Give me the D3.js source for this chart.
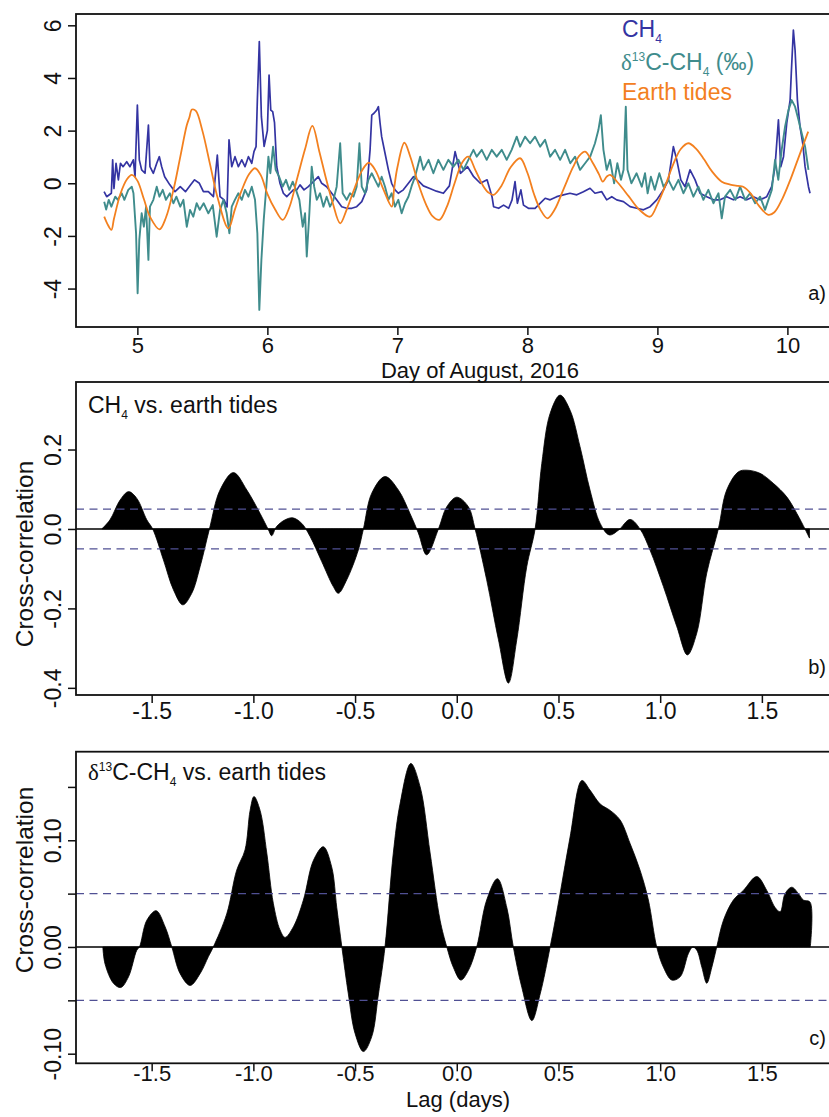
<!DOCTYPE html>
<html><head><meta charset="utf-8">
<script src="https://cdn.jsdelivr.net/npm/d3@7"></script>
<style>body{margin:0;background:#fff} text{font-family:"Liberation Sans",Arial,Helvetica,sans-serif;fill:#111}</style>
</head><body><svg id="c" width="829" height="1117"></svg>
<script>
// ---------- DATA ----------
// Panel a: [day of August 2016, standardized value]
const tides = [[4.745,-1.27],[4.77,-1.55],[4.80,-1.77],[4.82,-1.35],[4.87,-0.4],[4.92,0.15],[4.957,0.32],[5.00,0.1],[5.05,-0.6],[5.10,-1.3],[5.17,-1.75],[5.22,-1.3],[5.28,-0.2],[5.33,1.0],[5.38,2.2],[5.40,2.5],[5.42,2.8],[5.45,2.75],[5.50,2.0],[5.56,0.7],[5.62,-0.6],[5.70,-1.71],[5.75,-1.0],[5.80,-0.3],[5.86,0.35],[5.905,0.57],[5.95,0.3],[6.00,-0.4],[6.06,-1.0],[6.118,-1.39],[6.17,-0.9],[6.23,0.2],[6.29,1.3],[6.346,2.18],[6.40,1.2],[6.45,0.2],[6.50,-0.7],[6.56,-1.52],[6.61,-1.0],[6.67,-0.2],[6.73,0.5],[6.78,0.78],[6.83,0.5],[6.89,-0.2],[6.957,-0.89],[6.975,-0.2],[7.00,0.6],[7.054,1.54],[7.10,1.0],[7.16,0.0],[7.22,-0.8],[7.27,-1.25],[7.323,-1.39],[7.38,-0.9],[7.44,0.0],[7.50,0.8],[7.546,1.01],[7.60,0.5],[7.66,-0.1],[7.70,-0.35],[7.74,-0.44],[7.80,-0.1],[7.87,0.6],[7.944,0.95],[8.00,0.4],[8.05,-0.4],[8.10,-1.0],[8.154,-1.33],[8.21,-1.0],[8.28,-0.2],[8.35,0.6],[8.40,1.05],[8.444,1.20],[8.50,0.8],[8.55,0.35],[8.58,0.06],[8.61,0.25],[8.636,0.32],[8.70,0.0],[8.78,-0.5],[8.86,-1.0],[8.944,-1.27],[9.00,-0.8],[9.06,-0.1],[9.12,0.7],[9.18,1.3],[9.238,1.52],[9.30,1.3],[9.36,0.9],[9.42,0.45],[9.495,0.06],[9.56,-0.05],[9.62,-0.1],[9.66,-0.13],[9.72,-0.4],[9.78,-0.85],[9.854,-1.20],[9.90,-1.1],[9.96,-0.6],[10.02,0.1],[10.08,0.9],[10.16,1.96]];

const ch4 = [[4.744,-0.32],[4.764,-0.51],[4.80,-0.38],[4.81,0.89],[4.82,-0.2],[4.836,0.76],[4.854,0.13],[4.87,0.76],[4.89,0.63],[4.918,0.82],[4.943,0.63],[4.969,0.89],[4.982,0.25],[5.0,2.97],[5.015,0.89],[5.033,0.51],[5.059,0.38],[5.085,2.21],[5.097,0.63],[5.123,0.38],[5.149,0.76],[5.169,1.01],[5.187,0.63],[5.21,0.25],[5.25,-0.06],[5.29,-0.32],[5.33,-0.13],[5.37,-0.32],[5.41,-0.06],[5.44,0.13],[5.477,0.0],[5.508,-0.32],[5.546,-0.32],[5.585,-0.51],[5.615,1.07],[5.636,-0.51],[5.667,-0.63],[5.69,-0.9],[5.705,1.65],[5.726,0.63],[5.751,1.01],[5.777,0.63],[5.803,0.89],[5.828,0.63],[5.854,1.01],[5.88,0.76],[5.897,1.2],[5.913,1.39],[5.923,3.16],[5.938,5.38],[5.954,2.53],[5.975,1.4],[6.0,2.0],[6.013,4.11],[6.026,2.78],[6.041,2.72],[6.055,2.3],[6.072,0.63],[6.097,0.0],[6.123,-0.38],[6.149,-0.51],[6.174,-0.38],[6.2,-0.25],[6.226,-0.25],[6.251,-0.06],[6.282,-0.25],[6.315,-0.13],[6.354,0.06],[6.392,0.25],[6.418,0.0],[6.456,-0.13],[6.495,-0.38],[6.533,-0.63],[6.572,-0.89],[6.61,-0.95],[6.649,-0.95],[6.687,-0.89],[6.726,-0.7],[6.764,-0.25],[6.79,1.27],[6.803,2.59],[6.82,2.66],[6.841,2.78],[6.854,2.91],[6.867,2.28],[6.879,1.77],[6.905,1.14],[6.931,0.51],[6.956,0.0],[6.982,-0.25],[7.007,-0.38],[7.046,-0.25],[7.085,0.0],[7.123,0.25],[7.16,0.1],[7.2,-0.1],[7.25,-0.2],[7.3,-0.3],[7.354,-0.38],[7.4,-0.1],[7.444,1.2],[7.485,0.38],[7.54,0.63],[7.587,0.25],[7.638,0.0],[7.69,0.13],[7.728,-0.51],[7.74,-0.89],[7.779,-0.95],[7.817,-0.83],[7.856,-0.95],[7.882,-0.63],[7.905,0.06],[7.923,-0.76],[7.95,-0.25],[7.97,-0.83],[8.008,-0.95],[8.059,-0.95],[8.111,-0.7],[8.137,-0.57],[8.175,-0.63],[8.226,-0.51],[8.277,-0.44],[8.328,-0.38],[8.38,-0.44],[8.431,-0.32],[8.482,-0.19],[8.52,-0.38],[8.572,-0.32],[8.61,-0.63],[8.649,-0.51],[8.687,-0.63],[8.739,-0.7],[8.79,-0.89],[8.841,-0.95],[8.893,-1.01],[8.944,-0.89],[8.995,-0.63],[9.047,-0.25],[9.085,0.13],[9.123,1.39],[9.149,0.89],[9.18,0.13],[9.213,-0.13],[9.251,0.51],[9.29,0.13],[9.328,-0.38],[9.38,-0.51],[9.431,-0.63],[9.482,-0.63],[9.533,-0.51],[9.585,-0.63],[9.636,-0.51],[9.687,-0.63],[9.738,-0.51],[9.79,-0.63],[9.841,-0.51],[9.879,-0.13],[9.905,0.63],[9.931,2.41],[9.949,0.63],[9.97,1.01],[9.995,2.28],[10.021,3.16],[10.03,4.18],[10.046,5.82],[10.059,5.06],[10.077,3.16],[10.097,2.15],[10.118,1.52],[10.136,0.63],[10.162,-0.13],[10.174,-0.38]];

const d13c = [[4.745,-0.7],[4.76,-1.0],[4.78,-0.63],[4.80,-0.89],[4.83,-0.51],[4.85,-0.63],[4.88,-0.38],[4.90,-0.63],[4.93,-0.25],[4.957,-0.13],[4.97,-0.38],[4.99,-1.9],[5.002,-4.18],[5.015,-2.15],[5.033,-1.14],[5.05,-1.65],[5.067,-0.89],[5.085,-2.91],[5.097,-0.89],[5.123,-0.63],[5.149,-0.13],[5.17,-0.51],[5.195,-0.25],[5.22,-0.63],[5.25,-0.38],[5.277,-0.76],[5.3,-0.51],[5.33,-0.89],[5.354,-0.63],[5.38,-1.65],[5.405,-1.01],[5.43,-1.27],[5.456,-0.76],[5.48,-1.01],[5.51,-0.76],[5.546,-1.14],[5.58,-0.83],[5.61,-2.03],[5.636,-1.01],[5.662,-0.63],[5.687,-1.14],[5.708,-1.9],[5.726,-0.89],[5.75,-0.63],[5.777,-0.38],[5.803,-0.63],[5.828,-0.25],[5.854,-0.51],[5.88,-0.13],[5.905,-0.63],[5.923,-1.9],[5.938,-4.81],[5.954,-2.91],[5.972,-1.39],[5.992,-0.13],[6.008,1.01],[6.023,0.38],[6.044,1.39],[6.064,0.51],[6.09,0.25],[6.118,-0.13],[6.143,0.13],[6.169,-0.25],[6.195,0.06],[6.22,-0.25],[6.246,-0.63],[6.272,-1.65],[6.29,-1.14],[6.303,-2.78],[6.323,-1.14],[6.341,0.63],[6.36,-0.13],[6.38,-0.63],[6.405,-0.38],[6.431,-0.89],[6.456,-0.51],[6.482,-0.89],[6.508,-0.63],[6.533,-0.13],[6.56,1.52],[6.579,-0.38],[6.61,-0.63],[6.636,-0.38],[6.662,-0.51],[6.687,-0.13],[6.708,1.52],[6.726,-0.13],[6.751,-0.38],[6.777,0.13],[6.803,0.38],[6.828,0.13],[6.854,-0.13],[6.879,0.25],[6.905,-0.13],[6.931,-0.63],[6.956,-0.38],[6.982,-0.89],[7.007,-0.63],[7.033,-1.14],[7.059,-0.76],[7.085,-0.51],[7.11,-0.1],[7.136,0.25],[7.175,1.01],[7.2,0.51],[7.24,0.89],[7.277,0.38],[7.315,0.89],[7.354,0.51],[7.392,0.89],[7.431,0.63],[7.47,0.89],[7.508,0.51],[7.546,0.89],[7.585,1.27],[7.61,1.01],[7.649,1.27],[7.687,0.89],[7.726,1.27],[7.764,1.01],[7.803,1.27],[7.841,0.89],[7.879,1.27],[7.918,1.77],[7.944,1.39],[7.982,1.77],[8.021,1.52],[8.059,1.77],[8.098,1.39],[8.136,1.65],[8.175,1.01],[8.213,1.27],[8.252,0.89],[8.29,1.27],[8.33,0.76],[8.367,1.01],[8.405,0.51],[8.444,0.76],[8.483,1.01],[8.52,1.52],[8.546,2.02],[8.565,2.59],[8.585,1.27],[8.61,0.51],[8.636,0.89],[8.667,0.0],[8.692,0.76],[8.72,0.13],[8.74,0.51],[8.757,2.91],[8.77,0.51],[8.80,0.0],[8.84,0.38],[8.88,-0.13],[8.905,0.38],[8.925,-0.38],[8.95,0.25],[8.98,-0.25],[9.015,0.38],[9.047,-0.13],[9.085,0.13],[9.123,-0.25],[9.162,0.13],[9.2,-0.38],[9.238,0.0],[9.277,-0.51],[9.315,-0.13],[9.354,-0.63],[9.392,-0.25],[9.431,-0.76],[9.47,-0.38],[9.495,-1.33],[9.52,-0.51],[9.56,-0.25],[9.6,-0.63],[9.636,-0.13],[9.675,-0.63],[9.713,-0.38],[9.752,-0.76],[9.79,-0.51],[9.828,-1.01],[9.854,-0.63],[9.88,-0.25],[9.905,0.89],[9.93,0.13],[9.956,1.27],[9.982,2.15],[10.008,2.78],[10.033,3.16],[10.059,2.91],[10.085,2.41],[10.11,1.90],[10.136,1.39],[10.162,0.51]];

// Panel b: CH4 vs earth tides cross-correlation [lag (days), r]
const ccfCH4 = [[-1.745,0],[-1.705,0.023],[-1.655,0.073],[-1.614,0.094],[-1.573,0.077],[-1.524,0.023],[-1.495,0],[-1.442,-0.078],[-1.393,-0.153],[-1.347,-0.191],[-1.303,-0.162],[-1.262,-0.095],[-1.216,0],[-1.164,0.098],[-1.098,0.142],[-1.032,0.098],[-0.967,0.039],[-0.926,-0.002],[-0.91,-0.017],[-0.886,0.006],[-0.844,0.023],[-0.806,0.028],[-0.762,0.014],[-0.721,-0.019],[-0.664,-0.082],[-0.607,-0.145],[-0.582,-0.162],[-0.541,-0.128],[-0.484,-0.053],[-0.459,0],[-0.418,0.09],[-0.353,0.132],[-0.287,0.098],[-0.23,0.039],[-0.189,-0.01],[-0.148,-0.065],[-0.09,0],[-0.049,0.056],[0.0,0.08],[0.057,0.056],[0.09,0],[0.147,-0.128],[0.205,-0.279],[0.254,-0.388],[0.295,-0.279],[0.344,-0.095],[0.385,0],[0.418,0.165],[0.459,0.291],[0.508,0.337],[0.557,0.299],[0.606,0.207],[0.655,0.098],[0.705,0.014],[0.75,-0.015],[0.795,-0.003],[0.852,0.024],[0.901,0],[0.95,-0.053],[1.016,-0.145],[1.082,-0.246],[1.134,-0.317],[1.18,-0.262],[1.229,-0.111],[1.286,0],[1.327,0.098],[1.385,0.144],[1.426,0.148],[1.491,0.140],[1.556,0.115],[1.622,0.081],[1.672,0.039],[1.712,0],[1.734,-0.023]];

// Panel c: d13C-CH4 vs earth tides cross-correlation
const ccfD13C = [[-1.74,0],[-1.729,-0.016],[-1.688,-0.034],[-1.652,-0.038],[-1.614,-0.028],[-1.573,-0.003],[-1.56,0],[-1.524,0.025],[-1.478,0.034],[-1.434,0.019],[-1.401,0],[-1.36,-0.025],[-1.311,-0.036],[-1.262,-0.025],[-1.221,-0.009],[-1.197,0],[-1.131,0.031],[-1.082,0.072],[-1.041,0.091],[-1.016,0.128],[-0.997,0.141],[-0.967,0.128],[-0.934,0.088],[-0.902,0.041],[-0.869,0.016],[-0.844,0.009],[-0.803,0.019],[-0.754,0.044],[-0.705,0.081],[-0.656,0.094],[-0.615,0.075],[-0.59,0.037],[-0.565,0],[-0.533,-0.044],[-0.5,-0.081],[-0.459,-0.098],[-0.418,-0.084],[-0.385,-0.044],[-0.353,0],[-0.312,0.088],[-0.279,0.134],[-0.226,0.172],[-0.18,0.15],[-0.131,0.088],[-0.082,0.025],[-0.049,0],[-0.017,-0.019],[0.02,-0.031],[0.057,-0.022],[0.098,0],[0.147,0.044],[0.2,0.064],[0.246,0.037],[0.278,0],[0.32,-0.038],[0.369,-0.069],[0.41,-0.044],[0.459,0],[0.508,0.05],[0.557,0.103],[0.615,0.156],[0.655,0.147],[0.705,0.134],[0.754,0.128],[0.803,0.119],[0.852,0.097],[0.901,0.072],[0.942,0.044],[0.983,0],[1.016,-0.019],[1.057,-0.031],[1.098,-0.028],[1.139,-0.006],[1.16,0],[1.18,-0.003],[1.205,-0.019],[1.229,-0.034],[1.254,-0.019],[1.278,0],[1.311,0.025],[1.36,0.044],[1.409,0.053],[1.475,0.066],[1.524,0.053],[1.565,0.037],[1.59,0.033],[1.614,0.05],[1.647,0.056],[1.68,0.05],[1.704,0.044],[1.737,0.042],[1.738,0]];

const dayTicks = [5,6,7,8,9,10];
const aYTicks = [-4,-2,0,2,4,6];
const lagTicks = [-1.5,-1.0,-0.5,0.0,0.5,1.0,1.5];
const bYTicks = [-0.4,-0.2,0.0,0.2];
const cYTicks = [-0.10,-0.05,0.00,0.05,0.10,0.15];
const cYLabelled = [-0.10,0.00,0.10];
const ciLevel = 0.05;

// ---------- DRAW ----------
const COL_CH4 = "#3434a2", COL_D13 = "#3f8c8c", COL_TIDE = "#f3801f", COL_CI = "#505094";
const svg = d3.select("#c");
const L = 76, R = 831;
const FS = 23;

function frame(top, bottom){
  svg.append("rect").attr("x",L).attr("y",top).attr("width",R-L).attr("height",bottom-top)
    .attr("fill","none").attr("stroke","#111").attr("stroke-width",1.8);
}
function xAxis(x, yPos, ticks, fmt, labelOff, fs){
  const g = svg.append("g").attr("transform",`translate(0,${yPos})`)
    .call(d3.axisBottom(x).tickValues(ticks).tickFormat(fmt).tickSize(8));
  g.select(".domain").remove();
  g.selectAll(".tick line").attr("stroke","#111").attr("stroke-width",1.5);
  g.selectAll(".tick text").attr("y",labelOff).attr("dy",null)
    .attr("font-size",fs||FS).attr("fill","#111").style("font-family",'"Liberation Sans",Arial,sans-serif');
  return g;
}
function yAxis(y, ticks, labelled, fmt){
  const g = svg.append("g").attr("transform",`translate(${L},0)`)
    .call(d3.axisLeft(y).tickValues(ticks).tickFormat(d => labelled.some(v=>Math.abs(v-d)<1e-9) ? fmt(d) : "").tickSize(8));
  g.select(".domain").remove();
  g.selectAll(".tick line").attr("stroke","#111").attr("stroke-width",1.5);
  g.selectAll(".tick text").attr("x",null).attr("dy",null).attr("text-anchor","middle")
    .attr("transform","translate(-15,0) rotate(-90)")
    .attr("font-size",FS).attr("fill","#111").style("font-family",'"Liberation Sans",Arial,sans-serif');
  return g;
}
const minus = s => s.replace("−","-");

// ===== Panel a =====
const xA = d3.scaleLinear().domain([4.528,10.32]).range([L,829]);
const yA = d3.scaleLinear().domain([-5.46,6.43]).range([327,14]);
const lineA = d3.line().x(d=>xA(d[0])).y(d=>yA(d[1]));
svg.append("path").datum(ch4).attr("d",lineA).attr("fill","none").attr("stroke",COL_CH4).attr("stroke-width",1.7).attr("stroke-linejoin","round");
svg.append("path").datum(d13c).attr("d",lineA).attr("fill","none").attr("stroke",COL_D13).attr("stroke-width",1.9).attr("stroke-linejoin","round");
svg.append("path").datum(tides).attr("d",lineA.curve(d3.curveCatmullRom.alpha(0.5))).attr("fill","none").attr("stroke",COL_TIDE).attr("stroke-width",1.8);
frame(14,327);
xAxis(xA,327,dayTicks,d3.format("d"),26,22);
yAxis(yA,aYTicks,aYTicks,d=>minus(d3.format("d")(d)));
svg.append("text").attr("x",480).attr("y",378).attr("text-anchor","middle").attr("font-size",22).text("Day of August, 2016");
svg.append("text").attr("x",826).attr("y",300).attr("text-anchor","end").attr("font-size",20).text("a)");
// legend
const lg1 = svg.append("text").attr("x",622).attr("y",37).attr("font-size",FS).style("fill",COL_CH4);
lg1.append("tspan").text("CH");
lg1.append("tspan").attr("font-size",12).attr("dy",6).text("4");
const lg2 = svg.append("text").attr("x",621).attr("y",70).attr("font-size",FS).style("fill",COL_D13);
lg2.append("tspan").style("font-family",'"Liberation Serif","DejaVu Serif",serif').text("δ");
lg2.append("tspan").attr("font-size",12).attr("dy",-9).text("13");
lg2.append("tspan").attr("dy",9).text("C-CH");
lg2.append("tspan").attr("font-size",12).attr("dy",6).text("4");
lg2.append("tspan").attr("dy",-6).text(" (‰)");
svg.append("text").attr("x",622).attr("y",100).attr("font-size",FS).style("fill",COL_TIDE).text("Earth tides");

// ===== Panel b =====
const xB = d3.scaleLinear().domain([-1.872,1.83]).range([L,829]);
const yB = d3.scaleLinear().domain([-0.418,0.37]).range([695,382]);
svg.append("path").datum(ccfCH4)
  .attr("d",d3.area().x(d=>xB(d[0])).y0(yB(0)).y1(d=>yB(d[1])).curve(d3.curveCatmullRom.alpha(0.5)))
  .attr("fill","#000").attr("stroke","#000").attr("stroke-width",0.8);
svg.append("line").attr("x1",L).attr("x2",829).attr("y1",yB(0)).attr("y2",yB(0)).attr("stroke","#000").attr("stroke-width",1.6);
[ciLevel,-ciLevel].forEach(v=>svg.append("line").attr("x1",L).attr("x2",829).attr("y1",yB(v)).attr("y2",yB(v))
  .attr("stroke",COL_CI).attr("stroke-width",1.4).attr("stroke-dasharray","8,5.5"));
frame(382,695);
xAxis(xB,695,lagTicks,d=>minus(d3.format(".1f")(d)),24);
yAxis(yB,bYTicks,bYTicks,d=>minus(d3.format(".1f")(d)));
svg.append("text").attr("transform","translate(33,554) rotate(-90)").attr("text-anchor","middle").attr("font-size",24.5).text("Cross-correlation");
const tb = svg.append("text").attr("x",88).attr("y",413).attr("font-size",FS);
tb.append("tspan").text("CH");
tb.append("tspan").attr("font-size",12).attr("dy",6).text("4");
tb.append("tspan").attr("dy",-6).text(" vs. earth tides");
svg.append("text").attr("x",826).attr("y",674).attr("text-anchor","end").attr("font-size",20).text("b)");

// ===== Panel c =====
const xC = d3.scaleLinear().domain([-1.872,1.83]).range([L,829]);
const yC = d3.scaleLinear().domain([-0.109,0.183]).range([1063.3,751.7]);
svg.append("path").datum(ccfD13C)
  .attr("d",d3.area().x(d=>xC(d[0])).y0(yC(0)).y1(d=>yC(d[1])).curve(d3.curveCatmullRom.alpha(0.5)))
  .attr("fill","#000").attr("stroke","#000").attr("stroke-width",0.8);
svg.append("line").attr("x1",L).attr("x2",829).attr("y1",yC(0)).attr("y2",yC(0)).attr("stroke","#000").attr("stroke-width",1.6);
[ciLevel,-ciLevel].forEach(v=>svg.append("line").attr("x1",L).attr("x2",829).attr("y1",yC(v)).attr("y2",yC(v))
  .attr("stroke",COL_CI).attr("stroke-width",1.4).attr("stroke-dasharray","8,5.5"));
frame(751.7,1063.3);
xAxis(xC,1063.3,lagTicks,d=>minus(d3.format(".1f")(d)),18,22);
yAxis(yC,cYTicks,cYLabelled,d=>minus(d3.format(".2f")(d)));
svg.append("text").attr("transform","translate(33,880) rotate(-90)").attr("text-anchor","middle").attr("font-size",24.5).text("Cross-correlation");
svg.append("text").attr("x",458).attr("y",1107).attr("text-anchor","middle").attr("font-size",22).text("Lag (days)");
const tc = svg.append("text").attr("x",88).attr("y",780).attr("font-size",FS);
tc.append("tspan").style("font-family",'"Liberation Serif","DejaVu Serif",serif').text("δ");
tc.append("tspan").attr("font-size",12).attr("dy",-9).text("13");
tc.append("tspan").attr("dy",9).text("C-CH");
tc.append("tspan").attr("font-size",12).attr("dy",6).text("4");
tc.append("tspan").attr("dy",-6).text(" vs. earth tides");
svg.append("text").attr("x",826).attr("y",1045).attr("text-anchor","end").attr("font-size",20).text("c)");
</script></body></html>
